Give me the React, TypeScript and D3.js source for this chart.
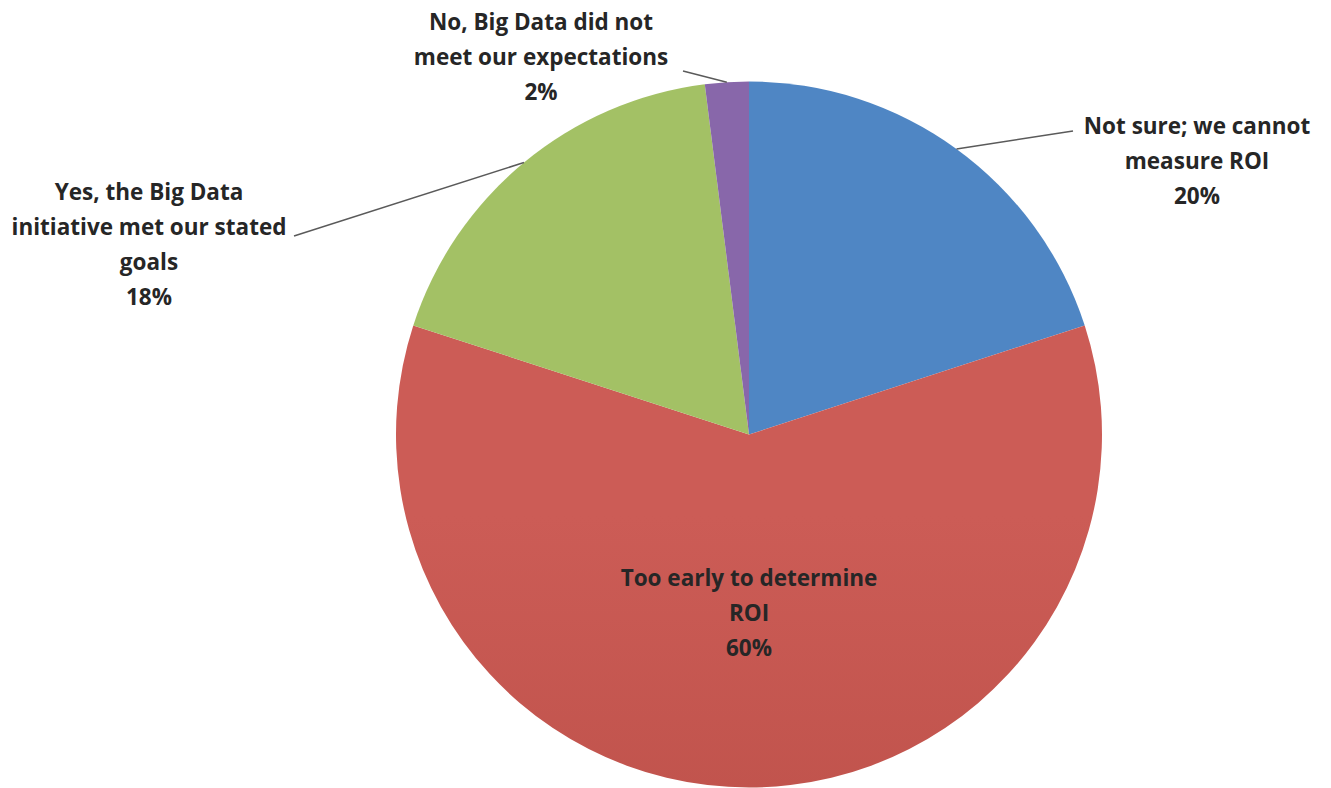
import React from "react";
import * as d3 from "d3";

const categories = [
  "Not sure; we cannot measure ROI",
  "Too early to determine ROI",
  "Yes, the Big Data initiative met our stated goals",
  "No, Big Data did not meet our expectations",
];
const values = [20, 60, 18, 2];
const percentLabels = ["20%", "60%", "18%", "2%"];
const labelLines = [
  ["Not sure; we cannot", "measure ROI"],
  ["Too early to determine", "ROI"],
  ["Yes, the Big Data", "initiative met our stated", "goals"],
  ["No, Big Data did not", "meet our expectations"],
];
const colorsTop = ["#4f86c4", "#cc5c56", "#a3c165", "#8867aa"];
const colorsBottom = ["#4574ad", "#b0473f", "#8ea94f", "#7a5c9b"];

const W = 1331;
const H = 788;
const cx = 749;
const cy = 434.5;
const R = 353;
const lineH = 35;
const fontSize = 22.5;

// label layout: anchor x, first line center y, leader end x/y
const labelLayout = [
  { x: 1197, y: 126, lx: 1073, ly: 131 },
  { x: 749, y: 578, lx: null, ly: null },
  { x: 149, y: 192, lx: 294, ly: 236 },
  { x: 541, y: 22, lx: 683, ly: 71 },
];

export default function App() {
  const pie = d3
    .pie<number>()
    .sort(null)
    .startAngle(0)
    .endAngle(2 * Math.PI)
    .value((d) => d);
  const arcs = pie(values);
  const arc = d3.arc<d3.PieArcDatum<number>>().innerRadius(0).outerRadius(R);

  return (
    <svg
      width={W}
      height={H}
      style={{ position: "absolute", left: 0, top: 0, background: "#fff" }}
      fontFamily="'Open Sans', sans-serif"
    >
      <defs>
        {colorsTop.map((c, i) => (
          <linearGradient
            key={i}
            id={`g${i}`}
            gradientUnits="userSpaceOnUse"
            x1={0}
            y1={cy - R}
            x2={0}
            y2={cy + R}
          >
            <stop offset="0" stopColor={c} />
            <stop offset="1" stopColor={colorsBottom[i]} />
          </linearGradient>
        ))}
      </defs>
      <g transform={`translate(${cx},${cy})`}>
        {arcs.map((a, i) => (
          <path key={categories[i]} d={arc(a) || ""} fill={`url(#g${i})`} />
        ))}
      </g>
      {arcs.map((a, i) => {
        const L = labelLayout[i];
        if (L.lx === null) return null;
        const mid = (a.startAngle + a.endAngle) / 2;
        const sx = cx + R * Math.sin(mid);
        const sy = cy - R * Math.cos(mid);
        return (
          <line
            key={"l" + i}
            x1={sx}
            y1={sy}
            x2={L.lx}
            y2={L.ly}
            stroke="#5a5a5a"
            strokeWidth={1.5}
          />
        );
      })}
      {arcs.map((a, i) => {
        const L = labelLayout[i];
        const lines = [...labelLines[i], percentLabels[i]];
        return (
          <text
            key={"t" + i}
            textAnchor="middle"
            fontSize={fontSize}
            fontWeight={700}
            fill="#262626"
          >
            {lines.map((s, j) => (
              <tspan key={j} x={L.x} y={L.y + j * lineH} dy="0.35em">
                {s}
              </tspan>
            ))}
          </text>
        );
      })}
    </svg>
  );
}
